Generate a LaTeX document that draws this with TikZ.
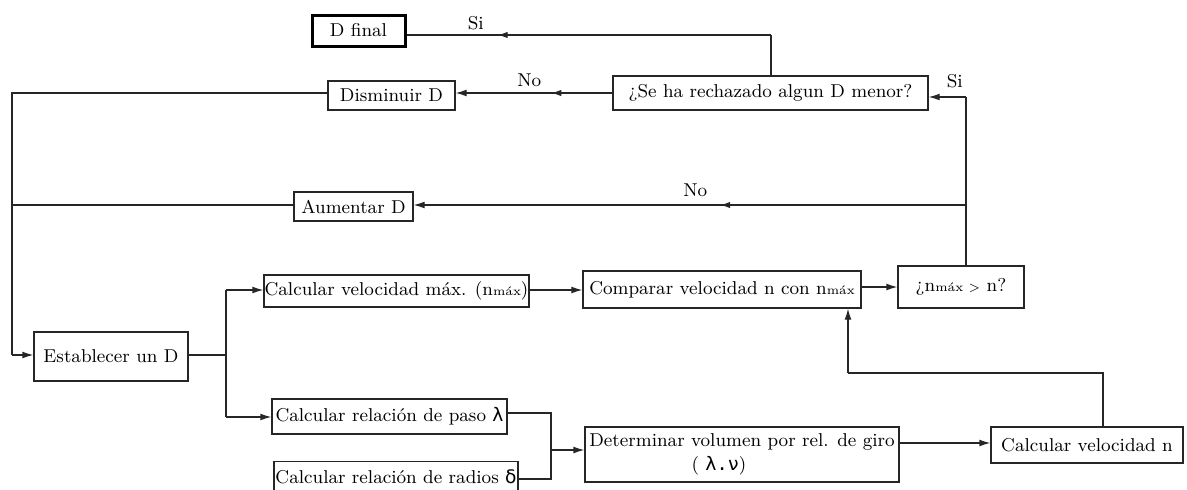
\documentclass[tikz,border=0pt]{standalone}
\usepackage{fontspec}
\newfontfamily\dejavu{DejaVu Sans}
\newfontfamily\dejavumono{DejaVu Sans Mono}
\usetikzlibrary{arrows.meta,decorations.markings}
\newcommand{\sub}[1]{{\fontsize{6.2}{7}\selectfont #1}}
\begin{document}
\begin{tikzpicture}[x=0.5pt,y=-0.5pt,
  conn/.style={line width=0.6pt,draw=black!85},
  box/.style={draw=black!85,line width=0.6pt,rectangle,inner sep=0pt,
    minimum width=#1,font=\fontsize{9.3}{11}\selectfont,align=center},
  box/.default=100pt,
  tip/.style={conn,-{Latex[length=5.5pt,width=3.4pt]}},
  midarr/.style={postaction={decorate},decoration={markings,
    mark=at position #1 with {\arrow{Latex[length=5pt,width=3.2pt]}}}},
  lbl/.style={font=\fontsize{9.3}{11}\selectfont,inner sep=1pt}]
\useasboundingbox (0,0) rectangle (1187,489);

% process boxes (sizes in half points)
\node[box=46.5pt,minimum height=15.5pt,line width=1.5pt,draw=black] (dfin) at (358.5,30.5) {D final};
\node[box=157.5pt,minimum height=17pt] (rech) at (770.5,93) {¿Se ha rechazado algun D menor?};
\node[box=63.5pt,minimum height=14.5pt] (dism) at (391.5,95.5) {Disminuir D};
\node[box=59.5pt,minimum height=14.5pt] (aum) at (353.5,206.5) {Aumentar D};
\node[box=132.5pt,minimum height=16pt] (cmax) at (396.5,291) {Calcular velocidad máx. (n\sub{máx})};
\node[box=139pt,minimum height=18.5pt] (comp) at (722,289.5) {Comparar velocidad n con n\sub{máx}};
\node[box=63pt,minimum height=21pt] (nq) at (961,287) {¿n\sub{máx >} n?};
\node[box=77pt,minimum height=24.5pt] (est) at (111,356.5) {Establecer un D};
\node[box=117.5pt,minimum height=17.5pt] (paso) at (389.5,416.5) {Calcular relación de paso {\dejavu λ}};
\node[box=122pt,minimum height=15pt] (radios) at (396,476.5) {Calcular relación de radios {\dejavu δ}};
\node[box=157pt,minimum height=27.5pt] (det) at (742,454.5) {Determinar volumen por rel. de giro\\[1pt]( {\dejavumono λ.ν})\hspace*{23pt}};
\node[box=96pt,minimum height=18pt] (cvn) at (1087,445) {Calcular velocidad n};

% bend points
\coordinate (sitop) at (771,35);
\coordinate (leftt) at (12,93);
\coordinate (leftb) at (12,355);
\coordinate (leftm) at (12,205);
\coordinate (rtop) at (966,97);
\coordinate (rmid) at (966,205);
\coordinate (splt) at (226,355);
\coordinate (splu) at (226,290);
\coordinate (spld) at (226,417);
\coordinate (joint) at (551,413);
\coordinate (joinb) at (551,479);
\coordinate (joinm) at (551,450);
\coordinate (outn) at (899,443);
\coordinate (fbr) at (1103,373);
\coordinate (fbl) at (848,373);

% decision "Si": the diameter is final
\draw[conn] (rech.north -| sitop) -- (sitop);
\draw[conn,midarr=0.75] (sitop) -- node[lbl,above=1pt,pos=0.81]{Si} (dfin.east |- sitop);

% decision "No": decrease the diameter
\draw[tip,midarr=0.39] (rech.west) -- node[lbl,above=2pt,pos=0.53]{No} (rech.west -| dism.east);

% return paths to "Establecer un D"
\draw[conn] (dism.west |- leftt) -- (leftt) -- (leftb);
\draw[tip] (leftb) -- (est.west |- leftb);
\draw[conn] (aum.west |- leftm) -- (leftm);

% speed check outcome
\draw[conn] (nq.north -| rtop) -- (rtop);
\draw[tip] (rtop) -- node[lbl,above=3pt,pos=0.3]{Si} (rech.east |- rtop);
\draw[tip,midarr=0.445] (rmid) -- node[lbl,above=3pt,pos=0.49]{No} (aum.east |- rmid);

% split after "Establecer un D"
\draw[conn] (est.east |- splt) -- (splt);
\draw[conn] (splu) -- (spld);
\draw[tip] (splu) -- (cmax.west |- splu);
\draw[tip] (spld) -- (paso.west |- spld);

\draw[tip] (cmax.east |- splu) -- (comp.west |- splu);
\draw[tip] (comp.east |- nq.west) -- (nq.west);

% join of the two ratios
\draw[conn] (paso.east |- joint) -- (joint) -- (joinb) -- (radios.east |- joinb);
\draw[tip] (joinm) -- (det.west |- joinm);
\draw[tip] (outn) -- (cvn.west |- outn);

% feedback of the computed speed
\draw[conn] (cvn.north -| fbr) -- (fbr) -- (fbl);
\draw[tip] (fbl) -- (comp.south -| fbl);
\end{tikzpicture}
\end{document}
